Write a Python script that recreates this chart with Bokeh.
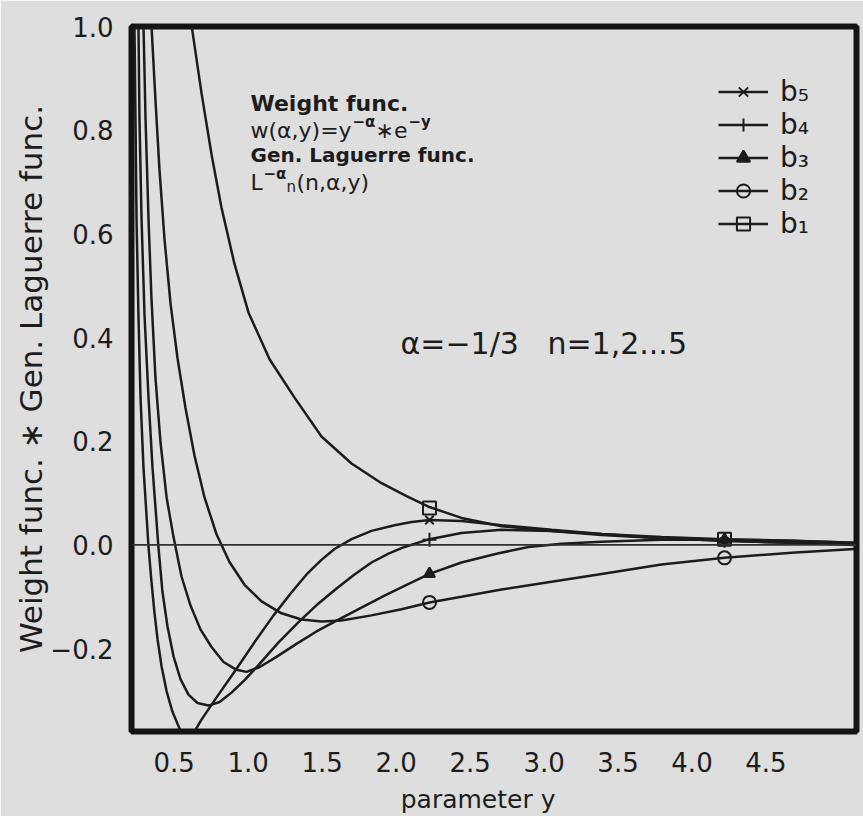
from bokeh.plotting import figure
from bokeh.models import (Range1d, FixedTicker, CustomJSTickFormatter, Span, Label,
                          Legend, LegendItem)
from bokeh.embed import file_html
from bokeh.resources import INLINE

# ---------------- data ----------------
b1_x = [0.506, 0.573, 0.641, 0.708, 0.796, 0.891, 1.033, 1.202, 1.384, 1.587, 1.790, 1.959,
        2.114, 2.330, 2.601, 2.939, 3.277, 3.682, 4.108, 4.561, 4.987]
b1_y = [1.002, 0.872, 0.753, 0.651, 0.542, 0.448, 0.358, 0.284, 0.209, 0.157, 0.119, 0.094,
        0.073, 0.052, 0.036, 0.027, 0.021, 0.015, 0.011, 0.008, 0.004]

b2_x = [0.235, 0.262, 0.289, 0.323, 0.364, 0.411, 0.465, 0.526, 0.593, 0.674, 0.762, 0.864,
        0.979, 1.114, 1.249, 1.384, 1.519, 1.722, 1.925, 2.114, 2.330, 2.601, 2.939, 3.277,
        3.682, 4.108, 4.561, 4.987]
b2_y = [1.002, 0.858, 0.724, 0.590, 0.465, 0.360, 0.264, 0.172, 0.092, 0.021, -0.033,
        -0.077, -0.109, -0.132, -0.144, -0.148, -0.146, -0.136, -0.124, -0.111, -0.100,
        -0.086, -0.071, -0.056, -0.038, -0.025, -0.015, -0.008]

b3_x = [0.181, 0.195, 0.215, 0.235, 0.262, 0.296, 0.337, 0.384, 0.438, 0.499, 0.566, 0.641,
        0.722, 0.810, 0.877, 0.964, 1.080, 1.215, 1.350, 1.499, 1.654, 1.810, 1.959, 2.114,
        2.330, 2.567, 2.783, 3.006, 3.277, 3.682, 4.108, 4.561, 4.987]
b3_y = [1.002, 0.820, 0.628, 0.475, 0.322, 0.198, 0.092, 0.015, -0.061, -0.117, -0.163,
        -0.197, -0.226, -0.241, -0.245, -0.236, -0.216, -0.191, -0.167, -0.144, -0.121,
        -0.098, -0.077, -0.056, -0.034, -0.017, -0.004, 0.002, 0.006, 0.010, 0.010, 0.008,
        0.004]

b4_x = [0.147, 0.154, 0.168, 0.188, 0.215, 0.242, 0.282, 0.309, 0.343, 0.384, 0.431, 0.485,
        0.546, 0.620, 0.695, 0.776, 0.864, 0.958, 1.094, 1.229, 1.364, 1.486, 1.607, 1.722,
        1.837, 1.945, 2.114, 2.330, 2.601, 2.939, 3.277, 3.682, 4.108, 4.561, 4.987]
b4_y = [1.002, 0.820, 0.628, 0.443, 0.284, 0.149, -0.004, -0.090, -0.157, -0.215, -0.259,
        -0.289, -0.305, -0.310, -0.303, -0.285, -0.261, -0.232, -0.188, -0.149, -0.113,
        -0.084, -0.057, -0.034, -0.017, -0.004, 0.011, 0.023, 0.029, 0.027, 0.019, 0.013,
        0.008, 0.004, 0.002]

b5_x = [0.120, 0.127, 0.134, 0.147, 0.161, 0.181, 0.215, 0.235, 0.255, 0.276, 0.303, 0.337,
        0.377, 0.424, 0.458, 0.492, 0.526, 0.573, 0.668, 0.810, 0.931, 1.060, 1.181, 1.283,
        1.384, 1.472, 1.587, 1.722, 1.878, 1.993, 2.114, 2.330, 2.601, 2.939, 3.277, 3.682,
        4.108, 4.561, 4.987]
b5_y = [1.002, 0.820, 0.628, 0.443, 0.284, 0.149, -0.004, -0.071, -0.130, -0.182, -0.234,
        -0.282, -0.322, -0.354, -0.375, -0.379, -0.360, -0.337, -0.297, -0.239, -0.188,
        -0.136, -0.092, -0.057, -0.029, -0.008, 0.011, 0.027, 0.038, 0.044, 0.048, 0.046,
        0.038, 0.029, 0.021, 0.013, 0.008, 0.004, 0.000]

marker_x = [2.114, 4.108]
b1_mk = [0.071, 0.011]
b2_mk = [-0.111, -0.025]
b3_mk = [-0.056, 0.010]
b4_mk = [0.010, 0.008]
b5_mk = [0.048, 0.006]

series_names = ["b\u2081", "b\u2082", "b\u2083", "b\u2084", "b\u2085"]
x_ticks = [0.5, 1.0, 1.5, 2.0, 2.5, 3.0, 3.5, 4.0, 4.5]
y_ticks = [-0.2, 0.0, 0.2, 0.4, 0.6, 0.8, 1.0]

# ---------------- styling ----------------
BG = "#dedede"
INK = "#1c1c1c"
FONT = "DejaVu Sans"
PAD = "\u00a0\u00a0\u00a0\u00a0"   # shifts centred x texts a little to the left, as in the original

p = figure(width=863, height=816, x_range=Range1d(0.1, 5.0), y_range=Range1d(-0.36, 1.0),
           output_backend="svg", toolbar_location=None,
           min_border_left=131, min_border_right=7, min_border_top=26, min_border_bottom=80,
           background_fill_color=BG, border_fill_color=BG)
p.grid.visible = False
p.outline_line_color = "#141414"
p.outline_line_width = 6

yfmt = CustomJSTickFormatter(code="return tick.toFixed(1).replace('-', '\u2212');")
xfmt = CustomJSTickFormatter(args=dict(pad=PAD), code="return tick.toFixed(1) + pad;")
for ax in (p.xaxis[0], p.yaxis[0]):
    ax.axis_line_color = None
    ax.major_tick_line_color = None
    ax.minor_tick_line_color = None
    ax.major_label_text_font = FONT
    ax.major_label_text_font_size = "26px"
    ax.major_label_text_color = INK
    ax.axis_label_text_font = FONT
    ax.axis_label_text_font_style = "normal"
    ax.axis_label_text_color = INK
p.xaxis.formatter = xfmt
p.yaxis.formatter = yfmt
p.xaxis.ticker = FixedTicker(ticks=x_ticks)
p.yaxis.ticker = FixedTicker(ticks=y_ticks)
p.xaxis.major_label_standoff = 10
p.xaxis.axis_label_standoff = 4
p.yaxis.major_label_standoff = 12
p.yaxis.axis_label_standoff = -2
p.xaxis.axis_label_text_font_size = "25px"
p.yaxis.axis_label_text_font_size = "31px"
p.xaxis.axis_label = "parameter y" + PAD
p.yaxis.axis_label = "Weight func. \u2217 Gen. Laguerre func."

p.add_layout(Span(location=0, dimension="width", line_color="#303030", line_width=1.6))

xs = [b1_x, b2_x, b3_x, b4_x, b5_x]
ys = [b1_y, b2_y, b3_y, b4_y, b5_y]
mks = [b1_mk, b2_mk, b3_mk, b4_mk, b5_mk]
marker_kind = ["square", "circle", "triangle", "cross", "x"]
marker_fill = [None, None, INK, INK, None]
data_size = [13, 13, 11, 14, 12]

items = []
for i in range(5):
    ln = p.line(xs[i], ys[i], line_color=INK, line_width=2.5)
    sc = p.scatter(marker_x, mks[i], marker=marker_kind[i], size=data_size[i],
                   line_color=INK, line_width=2, fill_color=marker_fill[i])
    items.append(LegendItem(label=series_names[i], renderers=[ln, sc]))

legend = Legend(items=items[::-1], location=(587, 491), orientation="vertical",
                glyph_width=50, glyph_height=33, label_height=32, spacing=0, padding=0,
                margin=0, label_standoff=12, border_line_color=None,
                background_fill_alpha=0, label_text_font=FONT,
                label_text_font_size="28px", label_text_color=INK)
p.add_layout(legend)

def lab(x, y, text, size, bold=False, dx=0, dy=0):
    p.add_layout(Label(x=x, y=y, x_offset=dx, y_offset=dy, text=text, text_font=FONT,
                       text_font_size=size, text_font_style="bold" if bold else "normal",
                       text_color=INK, text_align="left", text_baseline="alphabetic"))

TX = 0.904
lab(TX, 0.851, "Weight func.", "22px", True)
# w(α,y)=y^(−α) ∗ e^(−y)
lab(TX, 0.799, "w(\u03b1,y)=y", "22px")
lab(TX, 0.799, "\u2212\u03b1", "15px", True, dx=102, dy=9)
lab(TX, 0.799, "\u2217e", "22px", dx=125)
lab(TX, 0.799, "\u2212y", "15px", True, dx=158, dy=9)
lab(TX, 0.753, "Gen. Laguerre func.", "20px", True)
# L^(−α)_n(n,α,y)
lab(TX, 0.699, "L", "22px")
lab(TX, 0.699, "\u2212\u03b1", "15px", True, dx=13, dy=9)
lab(TX, 0.699, "n", "15px", dx=36, dy=-4)
lab(TX, 0.699, "(n,\u03b1,y)", "22px", dx=46)
lab(1.918, 0.389, "\u03b1=\u22121/3\u00a0\u00a0\u00a0n=1,2...5", "30px")

open("out.html", "w").write(file_html(p, INLINE))
